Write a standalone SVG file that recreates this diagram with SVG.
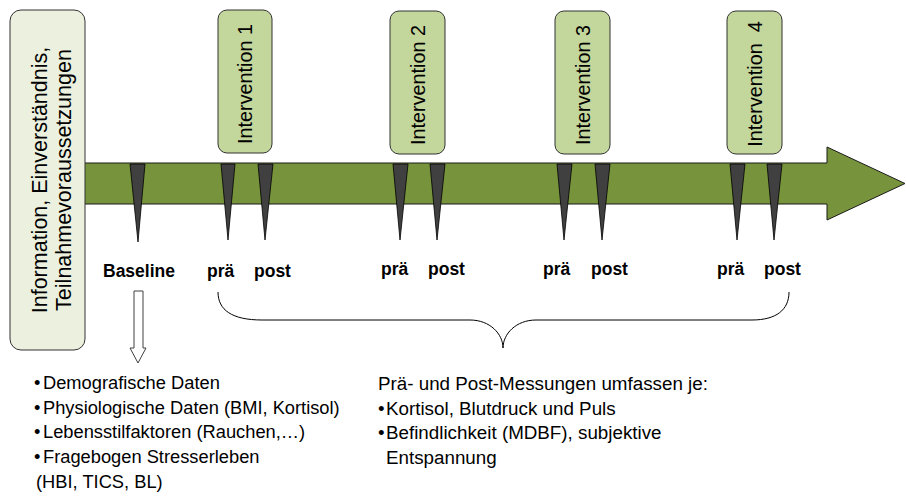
<svg xmlns="http://www.w3.org/2000/svg" width="906" height="497" viewBox="0 0 906 497">
<style>
.bar{fill:#77933C;stroke:#1a1a1a;stroke-width:1}
.mk{fill:#404040;stroke:#000;stroke-width:0.8}
.ibox{fill:#C3D69B;stroke:#333;stroke-width:1}
.ltxt{font-family:"Liberation Sans",Arial,sans-serif;font-size:21.5px;fill:#000}
.itxt{font-family:"Liberation Sans",Arial,sans-serif;font-size:19.8px;fill:#000;text-anchor:middle;white-space:pre}
.lbl{font-family:"Liberation Sans",Arial,sans-serif;font-size:17.5px;font-weight:bold;fill:#000}
.lst{font-family:"Liberation Sans",Arial,sans-serif;font-size:18.3px;fill:#000}
.rst{font-family:"Liberation Sans",Arial,sans-serif;font-size:18.8px;fill:#000}
.con{fill:none;stroke:#000;stroke-width:1}
</style>
<rect width="906" height="497" fill="#fff"/>
<g id="timeline">
<polygon class="bar" points="80,163 827,163 827,147 905,183.5 827,220 827,204 80,204"/>
</g>
<g id="info">
<rect x="10" y="10" width="75" height="340" rx="11" fill="#EBF1DE" stroke="#333" stroke-width="1"/>
<text class="ltxt" text-anchor="middle" transform="translate(47,180) rotate(-90)">Information, Einverständnis,</text>
<text class="ltxt" text-anchor="middle" transform="translate(71,180) rotate(-90)">Teilnahmevoraussetzungen</text>
</g>
<g id="intervention1">
<rect class="ibox" x="218" y="10" width="54" height="143" rx="9"/>
<text class="itxt" transform="translate(252,84) rotate(-90)">Intervention 1</text>
</g>
<g id="intervention2">
<rect class="ibox" x="390" y="11" width="55" height="143" rx="9"/>
<text class="itxt" transform="translate(424.5,85) rotate(-90)">Intervention 2</text>
</g>
<g id="intervention3">
<rect class="ibox" x="555" y="11" width="55" height="143" rx="9"/>
<text class="itxt" transform="translate(589.5,85) rotate(-90)">Intervention 3</text>
</g>
<g id="intervention4">
<rect class="ibox" x="727" y="11" width="55" height="143" rx="9"/>
<text class="itxt" transform="translate(761.5,84) rotate(-90)">Intervention  4</text>
</g>
<g id="markers">
<polygon class="mk" points="130,164 145,164 138,242"/>
<polygon class="mk" points="221,164 235,164 228,240"/>
<polygon class="mk" points="258,164 273,164 265,240"/>
<polygon class="mk" points="393,164 408,164 400,240"/>
<polygon class="mk" points="430,164 445,164 437,240"/>
<polygon class="mk" points="557,164 572,164 564,240"/>
<polygon class="mk" points="595,164 610,164 602,240"/>
<polygon class="mk" points="730,164 745,164 737,240"/>
<polygon class="mk" points="767,164 782,164 774,240"/>
</g>
<g id="labels">
<text class="lbl" x="103" y="277">Baseline</text>
<text class="lbl" x="207" y="277">prä</text>
<text class="lbl" x="254" y="277">post</text>
<text class="lbl" x="381" y="275">prä</text>
<text class="lbl" x="428" y="275">post</text>
<text class="lbl" x="543" y="275">prä</text>
<text class="lbl" x="591" y="275">post</text>
<text class="lbl" x="717" y="275">prä</text>
<text class="lbl" x="764" y="275">post</text>
</g>
<g id="connectors">
<polygon points="134,291 143,291 143,348 146,348 138,363 130,348 134,348" fill="#fff" stroke="#404040" stroke-width="1"/>
<path class="con" d="M218,292 C218,310 232,320 262,320 L470,320 C490,320 503,334 503,348 C503,334 516,320 536,320 L752,320 C776,320 789,310 789,292"/>
</g>
<g id="baseline-list">
<text class="lst" x="34" y="389">•<tspan x="43">Demografische Daten</tspan></text>
<text class="lst" x="34" y="413.5">•<tspan x="43">Physiologische Daten (BMI, Kortisol)</tspan></text>
<text class="lst" x="34" y="438">•<tspan x="43">Lebensstilfaktoren (Rauchen,…)</tspan></text>
<text class="lst" x="34" y="463">•<tspan x="43">Fragebogen Stresserleben</tspan></text>
<text class="lst" x="36" y="488">(HBI, TICS, BL)</text>
</g>
<g id="prepost-list">
<text class="rst" x="378" y="390">Prä- und Post-Messungen umfassen je:</text>
<text class="rst" x="378" y="414.5">•<tspan x="386">Kortisol, Blutdruck und Puls</tspan></text>
<text class="rst" x="378" y="439">•<tspan x="386">Befindlichkeit (MDBF), subjektive</tspan></text>
<text class="rst" x="386" y="463.5">Entspannung</text>
</g>
</svg>
